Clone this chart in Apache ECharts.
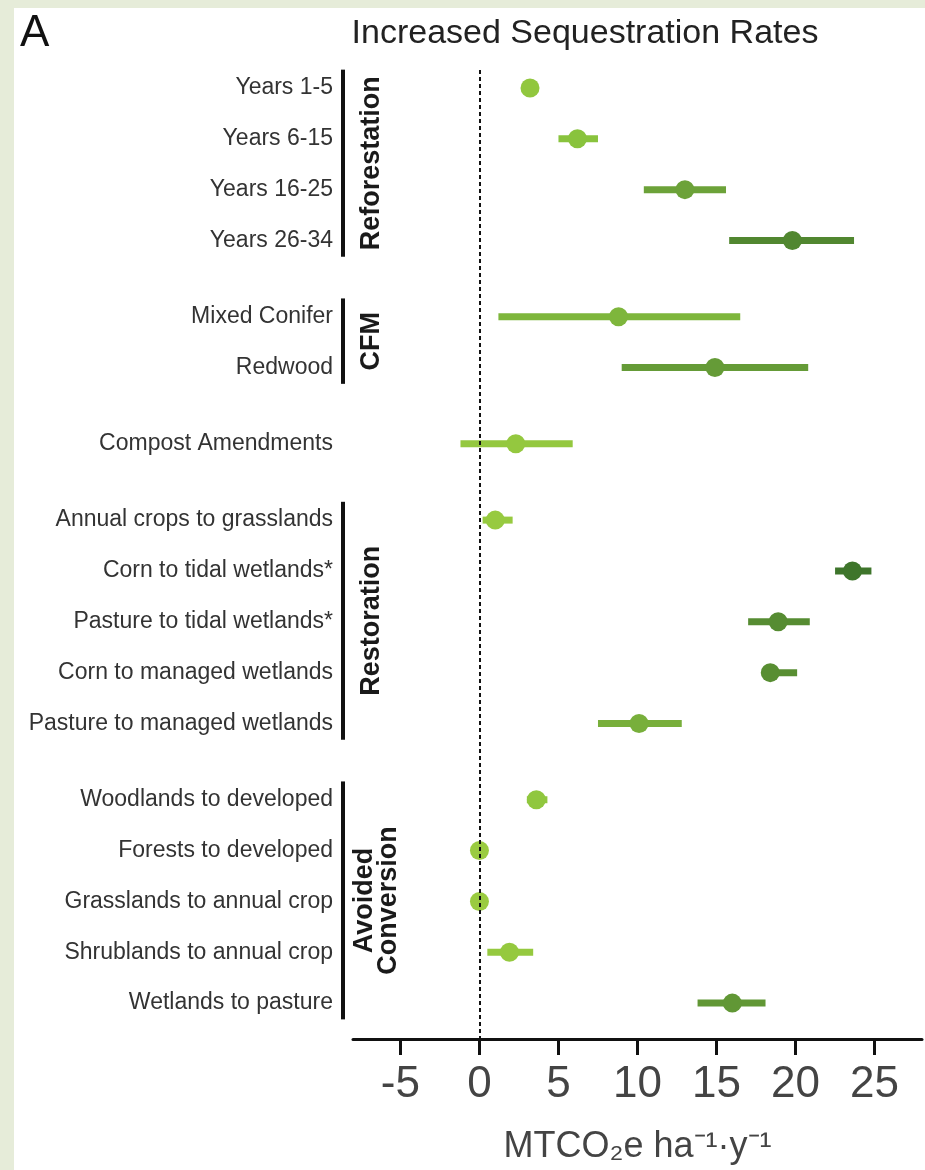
<!DOCTYPE html>
<html>
<head>
<meta charset="utf-8">
<script src="https://cdn.jsdelivr.net/npm/echarts@6/dist/echarts.min.js"></script>
<style>
  html, body { margin: 0; padding: 0; background: #ffffff; }
  #chart { width: 925px; height: 1170px; }
</style>
</head>
<body>
<div id="chart"></div>
<script>
// Practices, top to bottom
const categories = [
  'Years 1-5', 'Years 6-15', 'Years 16-25', 'Years 26-34',
  'Mixed Conifer', 'Redwood',
  'Compost Amendments',
  'Annual crops to grasslands', 'Corn to tidal wetlands*', 'Pasture to tidal wetlands*',
  'Corn to managed wetlands', 'Pasture to managed wetlands',
  'Woodlands to developed', 'Forests to developed', 'Grasslands to annual crop',
  'Shrublands to annual crop', 'Wetlands to pasture'
];
// Group index of each practice
const groupOf = [0, 0, 0, 0, 1, 1, 2, 3, 3, 3, 3, 3, 4, 4, 4, 4, 4];
const groupNames = ['Reforestation', 'CFM', '', 'Restoration', 'Avoided\nConversion'];

// Sequestration rate (MTCO2e ha-1 y-1): estimate and range
const estimate = [3.2, 6.2, 13.0, 19.8, 8.8, 14.9, 2.3, 1.0, 23.6, 18.9, 18.4, 10.1, 3.6, 0.0, 0.0, 1.9, 16.0];
const lower    = [2.9, 5.0, 10.4, 15.8, 1.2, 9.0, -1.2, 0.2, 22.5, 17.0, 18.0, 7.5, 3.0, 0.0, 0.0, 0.5, 13.8];
const upper    = [3.6, 7.5, 15.6, 23.7, 16.5, 20.8, 5.9, 2.1, 24.8, 20.9, 20.1, 12.8, 4.3, 0.0, 0.0, 3.4, 18.1];

const xTicks = [-5, 0, 5, 10, 15, 20, 25];

// Row positions: one step within a group, an extra half step between groups
const rowPos = [];
categories.forEach(function (c, i) {
  if (i === 0) { rowPos.push(0); return; }
  rowPos.push(rowPos[i - 1] + (groupOf[i] === groupOf[i - 1] ? 1 : 1.5));
});
const nameAt = {};
rowPos.forEach(function (p, i) { nameAt[String(p)] = categories[i]; });

// Group extents for the bracket bars
const groupRows = groupNames.map(function (n, g) {
  const ps = rowPos.filter(function (p, i) { return groupOf[i] === g; });
  return [Math.min.apply(null, ps), Math.max.apply(null, ps), n];
}).filter(function (r) { return r[2] !== ''; });

const pointData = categories.map(function (c, i) {
  return [estimate[i], rowPos[i], lower[i], upper[i]];
});

const chart = echarts.init(document.getElementById('chart'), null, { renderer: 'canvas' });

const FONT = "'Liberation Sans', Arial, Helvetica, sans-serif";

const option = {
  backgroundColor: '#ffffff',
  animation: false,
  graphic: [
    { type: 'rect', left: 0, top: 0, shape: { width: 14, height: 1170 }, style: { fill: '#e6ecd9' }, silent: true },
    { type: 'rect', left: 0, top: 0, shape: { width: 925, height: 8 }, style: { fill: '#e6ecd9' }, silent: true },
    { type: 'text', left: 20, top: 12, style: { text: 'A', font: '44px ' + FONT, fill: '#111' } }
  ],
  title: {
    text: 'Increased Sequestration Rates',
    left: 580, top: 12, textAlign: 'center',
    textStyle: { fontFamily: FONT, fontSize: 34, fontWeight: 'normal', color: '#222' }
  },
  grid: { left: 353, right: 3, top: 70, bottom: 128, containLabel: false },
  visualMap: {
    show: false,
    type: 'continuous',
    seriesIndex: 0,
    dimension: 0,
    min: 0, max: 24,
    inRange: { color: ['#9acb40', '#8ac43d', '#70a53a', '#5a9033', '#3c732a'] }
  },
  xAxis: {
    type: 'value',
    min: -8, max: 28,
    splitLine: { show: false },
    axisLine: { show: true, onZero: false, lineStyle: { color: '#111', width: 3 } },
    axisTick: { show: true, customValues: xTicks, length: 16, lineStyle: { color: '#111', width: 3 } },
    axisLabel: { customValues: xTicks, fontFamily: FONT, fontSize: 44, color: '#444', margin: 24 },
    name: 'MTCO\u2082e ha\u207B\u00B9\u00B7y\u207B\u00B9',
    nameLocation: 'middle',
    nameGap: 90,
    nameTextStyle: { fontFamily: FONT, fontSize: 36, color: '#444' }
  },
  yAxis: {
    type: 'value',
    inverse: true,
    min: -0.353, max: 18.706,
    splitLine: { show: false },
    axisLine: { show: false },
    axisTick: { show: false },
    axisLabel: {
      customValues: rowPos,
      fontFamily: FONT, fontSize: 23, color: '#333', margin: 20,
      formatter: function (v) { return nameAt[String(v)] || ''; }
    }
  },
  series: [
    {
      type: 'custom',
      z: 3,
      data: pointData,
      encode: { x: [0, 2, 3], y: 1 },
      renderItem: function (params, api) {
        const y = api.value(1);
        const p = api.coord([api.value(0), y]);
        const a = api.coord([api.value(2), y]);
        const b = api.coord([api.value(3), y]);
        const color = api.visual('color');
        return {
          type: 'group',
          children: [
            { type: 'rect', shape: { x: a[0], y: p[1] - 3.5, width: b[0] - a[0], height: 7 }, style: { fill: color } },
            { type: 'circle', shape: { cx: p[0], cy: p[1], r: 9.5 }, style: { fill: color } }
          ]
        };
      },
      markLine: {
        silent: true,
        symbol: 'none',
        z: 10,
        label: { show: false },
        lineStyle: { color: '#111', width: 2, type: [4, 3] },
        data: [{ xAxis: 0 }]
      }
    },
    {
      type: 'custom',
      z: 4,
      clip: false,
      data: groupRows,
      encode: { y: [0, 1] },
      renderItem: function (params, api) {
        const top = api.coord([0, api.value(0) - 0.36]);
        const bot = api.coord([0, api.value(1) + 0.32]);
        const name = groupRows[params.dataIndex][2];
        const twoLine = name.indexOf('\n') >= 0;
        const cx = twoLine ? 377 : 372;
        return {
          type: 'group',
          children: [
            { type: 'rect', shape: { x: 341, y: top[1], width: 4, height: bot[1] - top[1] }, style: { fill: '#111' } },
            {
              type: 'text',
              x: cx, y: (top[1] + bot[1]) / 2,
              rotation: Math.PI / 2,
              style: {
                text: name,
                font: 'bold 27px ' + FONT,
                fill: '#1a1a1a',
                align: 'center',
                verticalAlign: 'middle',
                lineHeight: 24
              }
            }
          ]
        };
      }
    }
  ]
};

chart.setOption(option);
</script>
</body>
</html>
